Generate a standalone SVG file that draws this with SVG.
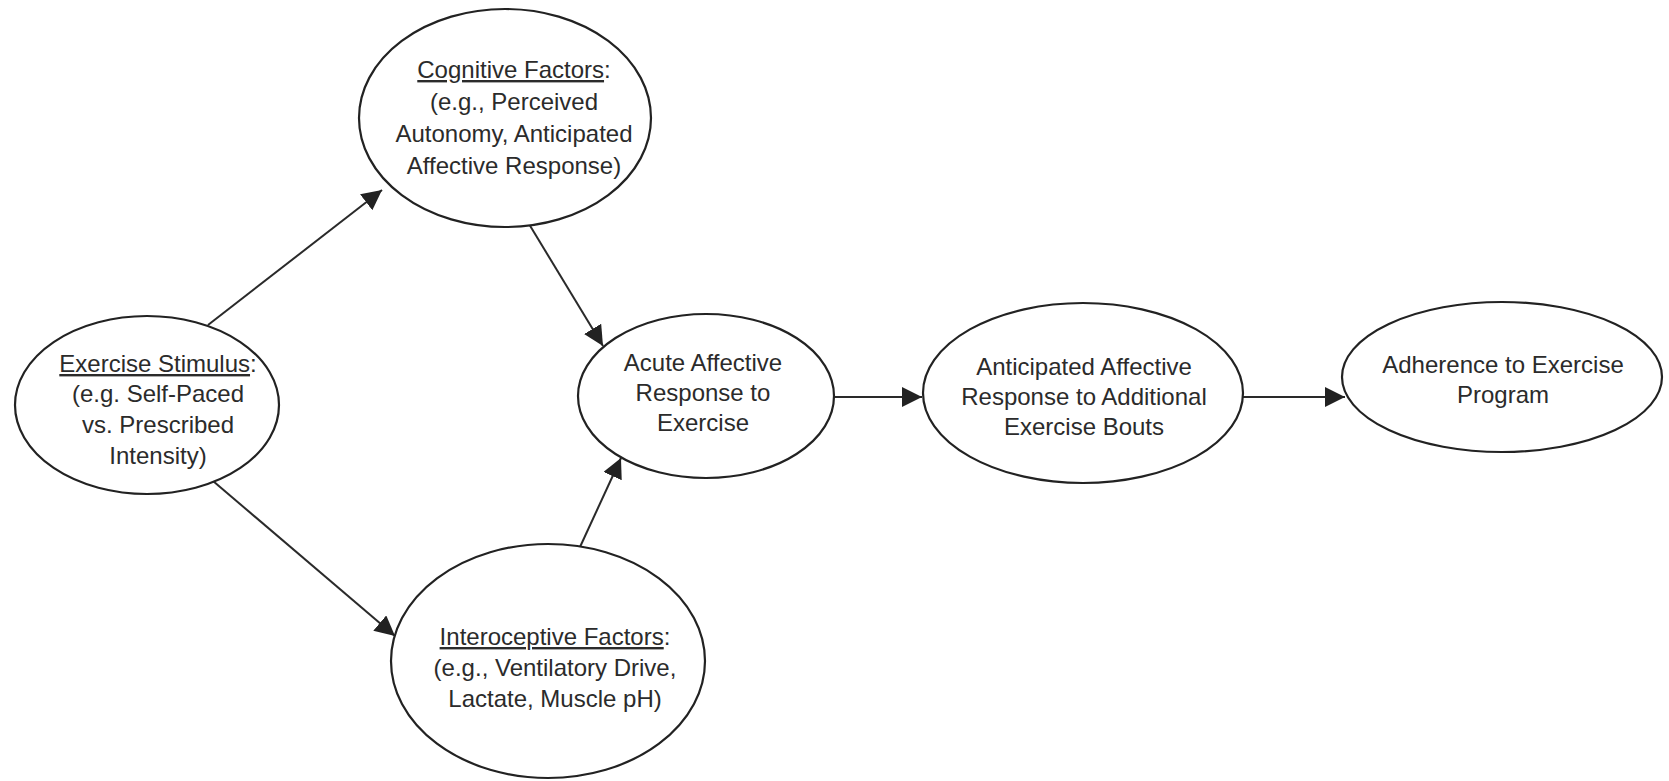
<svg xmlns="http://www.w3.org/2000/svg" width="1669" height="781" viewBox="0 0 1669 781">
  <defs>
    <marker id="arrow" markerUnits="userSpaceOnUse" markerWidth="22" markerHeight="22" refX="20" refY="10" orient="auto">
      <path d="M0,0 L20,10 L0,20 Z" fill="#222"/>
    </marker>
    <style>
      .node ellipse { fill: #fff; stroke: #222; stroke-width: 2.2; }
      .node text { font-family: "Liberation Sans", Arial, sans-serif; font-size: 24px; fill: #2b2b2b; text-anchor: middle; }
      .u { text-decoration: underline; }
      .edge { fill: none; stroke: #2a2a2a; stroke-width: 2; marker-end: url(#arrow); }
    </style>
  </defs>
  <rect x="0" y="0" width="1669" height="781" fill="#fff"/>

  <!-- connectors -->
  <g id="connectors">
    <line class="edge" x1="208" y1="325" x2="382" y2="190"/>
    <line class="edge" x1="213" y1="481" x2="395" y2="636"/>
    <line class="edge" x1="529" y1="224" x2="603" y2="346"/>
    <line class="edge" x1="580" y1="547" x2="621" y2="458"/>
    <line class="edge" x1="834" y1="397" x2="922" y2="397"/>
    <line class="edge" x1="1243" y1="397" x2="1345" y2="397"/>
  </g>

  <!-- exercise stimulus -->
  <g id="exercise-stimulus" class="node">
    <ellipse cx="147" cy="405" rx="132" ry="89"/>
    <text x="158" y="372"><tspan class="u">Exercise Stimulus</tspan>:</text>
    <text x="158" y="402">(e.g. Self-Paced</text>
    <text x="158" y="433">vs. Prescribed</text>
    <text x="158" y="464">Intensity)</text>
  </g>

  <!-- cognitive factors -->
  <g id="cognitive-factors" class="node">
    <ellipse cx="505" cy="118" rx="146" ry="109"/>
    <text x="514" y="78"><tspan class="u">Cognitive Factors</tspan>:</text>
    <text x="514" y="110">(e.g., Perceived</text>
    <text x="514" y="142">Autonomy, Anticipated</text>
    <text x="514" y="174">Affective Response)</text>
  </g>

  <!-- interoceptive factors -->
  <g id="interoceptive-factors" class="node">
    <ellipse cx="548" cy="661" rx="157" ry="117"/>
    <text x="555" y="645"><tspan class="u">Interoceptive Factors</tspan>:</text>
    <text x="555" y="676">(e.g., Ventilatory Drive,</text>
    <text x="555" y="707">Lactate, Muscle pH)</text>
  </g>

  <!-- acute affective response -->
  <g id="acute-response" class="node">
    <ellipse cx="706" cy="396" rx="128" ry="82"/>
    <text x="703" y="371">Acute Affective</text>
    <text x="703" y="401">Response to</text>
    <text x="703" y="431">Exercise</text>
  </g>

  <!-- anticipated affective response -->
  <g id="anticipated-response" class="node">
    <ellipse cx="1083" cy="393" rx="160" ry="90"/>
    <text x="1084" y="375">Anticipated Affective</text>
    <text x="1084" y="405">Response to Additional</text>
    <text x="1084" y="435">Exercise Bouts</text>
  </g>

  <!-- adherence -->
  <g id="adherence" class="node">
    <ellipse cx="1502" cy="377" rx="160" ry="75"/>
    <text x="1503" y="373">Adherence to Exercise</text>
    <text x="1503" y="403">Program</text>
  </g>
</svg>
